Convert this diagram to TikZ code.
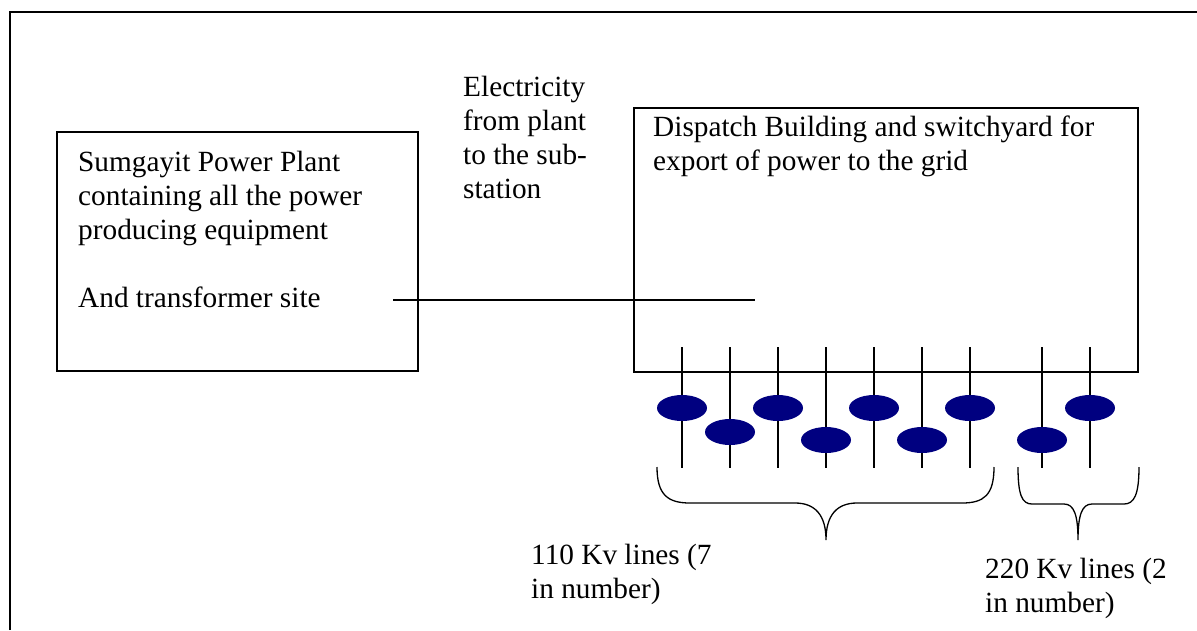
\documentclass[tikz,border=0pt]{standalone}
\usepackage{fontspec}
\setmainfont{Liberation Serif}
\usetikzlibrary{positioning, shapes.geometric, calc}
\definecolor{breakernavy}{RGB}{0, 0, 128}
\tikzset{
  siteBox/.style={
    draw=black,
    line width=1.3pt,
    rectangle,
    inner sep=0pt
  },
  siteText/.style={
    font=\fontsize{29.3}{34}\selectfont,
    align=left,
    inner sep=0pt,
    anchor=base west
  },
  breaker/.style={
    ellipse,
    fill=breakernavy,
    minimum width=50pt,
    minimum height=26pt,
    inner sep=0pt
  },
  feeder/.style={
    line width=1.3pt
  },
  brace/.style={
    line width=1.3pt
  }
}

\begin{document}
\begin{tikzpicture}[x=1pt, y=-1pt]
      \useasboundingbox (0,0) rectangle (1197,630);
      \draw[line width=2pt] (10,630) -- (10,12) -- (1197,12);

      \node[siteBox, minimum width=361pt, minimum height=239pt] (plant) at (237.5,251.5) {};
      \node[siteBox, minimum width=504pt, minimum height=264pt] (dispatch) at (886,240) {};

      \node[siteText] (plantText) at (78,307) {Sumgayit Power Plant\\containing all the power\\producing equipment\\[34pt]And transformer site};
      \node[siteText] (flowText) at (463,198) {Electricity\\from plant\\to the sub-\\station};
      \node[siteText] (dispatchText) at (653,170) {Dispatch Building and switchyard for\\export of power to the grid};

      \coordinate (feedA) at (393,300);
      \coordinate (feedB) at (755,300);
      \draw[feeder] (feedA) -- (feedB);

      \foreach \x/\y [count=\i] in {682/408, 730/432, 778/408, 826/440, 874/408, 922/440, 970/408, 1042/440, 1090/408} {
        \coordinate (top\i) at (\x,347);
        \coordinate (end\i) at (\x,468);
        \draw[feeder] (top\i) -- (end\i);
        \node[breaker] (cb\i) at (\x,\y) {};
      }

      \coordinate (tipLow) at (826,540);
      \coordinate (tipHigh) at (1078,540);
      \draw[brace] (657,467) .. controls (657,495) and (668,503) .. (690,503) -- (795,503)
        .. controls (815,503) and (826,515) .. (tipLow)
        .. controls (826,515) and (837,503) .. (857,503) -- (962,503)
        .. controls (984,503) and (994,495) .. (994,467);
      \draw[brace] (1018,467) .. controls (1018,495) and (1022,504) .. (1032,504) -- (1064,504)
        .. controls (1074,504) and (1078,515) .. (tipHigh)
        .. controls (1078,515) and (1082,504) .. (1092,504) -- (1124,504)
        .. controls (1134,504) and (1139,495) .. (1139,467);

      \node[siteText] (lowLabel) at (531,598) {110 Kv lines (7\\in number)};
      \node[siteText] (highLabel) at (985,612) {220 Kv lines (2\\in number)};
    \end{tikzpicture}
\end{document}
